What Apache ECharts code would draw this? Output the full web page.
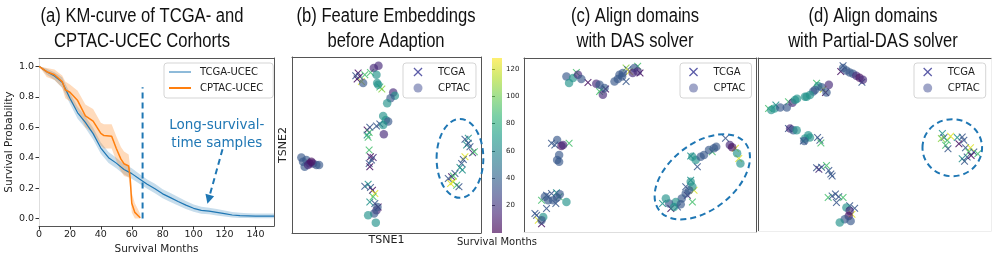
<!DOCTYPE html>
<html><head><meta charset="utf-8">
<script src="https://cdn.jsdelivr.net/npm/echarts@6/dist/echarts.min.js"></script>
<style>html,body{margin:0;padding:0;background:#fff}#c{width:996px;height:260px}</style>
</head><body><div id="c"></div><script>
// ---------------- data ----------------
const titles = ['(a) KM-curve of TCGA- and\nCPTAC-UCEC Corhorts','(b) Feature Embeddings\nbefore Adaption','(c) Align domains\nwith DAS solver','(d) Align domains\nwith Partial-DAS solver'];
const kmTicksX = [0,20,40,60,80,100,120,140];
const kmTicksY = [0,0.2,0.4,0.6,0.8,1.0];
const cbarTicks = [20,40,60,80,100,120];

const tcgaMonths = [0,5,10,15,20,25,30,35,40,45,50,55,60,65,70,75,80,85,90,95,100,105,110,115,120,125,130,135,140,145,152];
const tcgaSurv = [1.0,0.965,0.937,0.895,0.79,0.695,0.632,0.558,0.463,0.40,0.364,0.322,0.295,0.259,0.225,0.196,0.162,0.137,0.112,0.088,0.067,0.053,0.048,0.04,0.032,0.023,0.019,0.017,0.015,0.015,0.015];
const tcgaLo = [1.0,0.945,0.91,0.86,0.755,0.655,0.595,0.52,0.425,0.365,0.33,0.29,0.262,0.228,0.195,0.166,0.133,0.108,0.085,0.063,0.044,0.032,0.028,0.02,0.013,0.007,0.004,0.003,0.002,0.002,0.002];
const tcgaHi = [1.0,0.985,0.962,0.928,0.825,0.735,0.67,0.597,0.5,0.437,0.4,0.356,0.33,0.292,0.257,0.228,0.193,0.167,0.141,0.115,0.092,0.077,0.07,0.062,0.053,0.043,0.037,0.035,0.033,0.033,0.033];

const cptacMonths = [0,5,10,15,17,20,25,30,35,40,42,47,50,53,55,58,59,60,62,64,65.5];
const cptacSurv = [1.0,0.965,0.945,0.9,0.845,0.83,0.775,0.675,0.64,0.56,0.545,0.54,0.46,0.39,0.36,0.345,0.26,0.1,0.04,0.02,0.005];
const cptacLo = [1.0,0.93,0.91,0.86,0.79,0.77,0.71,0.6,0.56,0.48,0.46,0.46,0.38,0.31,0.28,0.27,0.19,0.04,0.0,0.0,0.0];
const cptacHi = [1.0,0.99,0.98,0.94,0.9,0.88,0.84,0.75,0.72,0.63,0.62,0.62,0.54,0.47,0.44,0.42,0.33,0.17,0.1,0.06,0.03];

const cutoffMonth = 67, cutoffTop = 0.863;
const arrowFrom = [118.7,0.455], arrowTo = [109.7,0.126];
const noteAt = [115,0.55];
const noteText = 'Long-survival-\ntime samples';

// t-SNE points: [tsne1, tsne2, survival months]
const bTCGA = [
[-8.5,23.0,5],[-8.0,22.0,15],[-8.8,21.2,5],[-7.5,20.5,122],[-9.2,22.2,35],[-6.5,22.5,90],[-4.8,23.2,90],[-2.0,18.8,90],[-1.4,18.2,105],
[-5.8,6.0,5],[-5.2,5.2,90],[-5.8,4.5,65],[-5.0,6.8,35],[-3.0,7.2,35],[-2.0,7.8,35],[-5.5,3.8,90],
[-5.2,0,90],[-4.8,-2.0,5],[-4.0,-2.2,15],[-5.2,-4.0,35],[-5.0,-5.0,5],[-4.5,-3.0,35],
[-6.5,-10.8,35],[-5.5,-10.2,65],[-4.8,-11.2,35],[-4.2,-12.0,5],[-3.5,-13.0,122],[-4.0,-14.0,90],[-3.5,-16.0,35],[-2.5,-17.0,5],[-5.0,-15.5,65],
[23.5,3.2,35],[24.5,3.5,65],[24.0,1.5,65],[25.0,1.0,35],[25.8,-0.8,15],[26.3,-0.5,90],[23.5,-2.0,122],[23.0,-2.8,35],[22.5,-4.0,35],[22.0,-5.2,65],[22.7,-6.0,65],[20.5,-7.0,35],[19.5,-8.0,5],[18.5,-8.5,35],[20.0,-7.8,90],[19.2,-10.0,122],[20.0,-9.5,122],[21.0,-10.5,90],[21.7,-11.0,35],[24.5,2.0,35]
];
const bCPTAC = [
[-7.0,20.0,35],[-3.8,24.5,15],[-2.4,25.2,15],[-3.0,22.5,65],[-2.5,19.5,65],[-2.8,20.0,65],[2.0,17.2,15],[2.5,16.2,65],[1.2,15.5,35],[0.2,14.0,65],
[-1.0,10.2,65],[-0.2,9.0,65],[0.5,8.5,35],[-1.0,7.5,65],[-0.8,4.7,15],
[-3.0,-18.0,15],[-3.7,-19.0,35],[-5.5,-19.5,65],[-3.2,-21.7,65],[-2.7,-17.0,35],
[-25.5,-2.2,35],[-25.0,-3.5,35],[-24.0,-3.0,35],[-23.0,-4.0,5],[-22.0,-4.0,15],[-21.0,-4.5,35],[-20.2,-4.5,35],[-24.5,-5.0,35],[-23.5,-4.5,15],[-22.5,-3.5,5]
];
const cTCGA = [
[-19.0,21.7,90],[-15.5,18.7,5],[-11.5,16.5,90],[-10.2,16.7,5],[-12.0,16.0,90],[-4.0,23.0,105],[-3.5,22.5,35],[-0.5,23.5,90],[0.2,21.5,5],[-4.0,19.0,35],[-3.0,22.0,122],
[-26.5,0.5,35],[-25.5,0,35],[-21.2,0.5,90],
[-29.5,-16.5,90],[-28.0,-15.0,35],[-26.5,-14.5,35],[-25.0,-14.3,65],[-24.2,-15.5,90],[-25.2,-17.5,35],[-28.0,-19.0,35],[-31.5,-20.5,35],[-31.0,-21.0,35],[-30.5,-22.5,122],[-29.5,-23.5,5],
[15.5,-3.3,65],[22.0,-2.0,90],[26.0,2.0,35],[29.0,-1.0,122],[30.0,-4.0,122],[17.5,-6.5,35],
[14.5,-15.0,15],[16.5,-13.5,122],[16.0,-17.0,90],[7.0,-17.5,65],[9.5,-19.0,5],[11.5,-18.5,35],[14.0,-12.5,35],[15.5,-10.5,65]
];
const cCPTAC = [
[-22.0,20.5,35],[-21.2,18.5,65],[-20.0,20.0,65],[-18.5,21.0,15],[-17.5,19.7,35],[-13.0,18.3,15],[-12.0,18.0,35],[-11.0,15.0,15],[-10.5,17.0,35],
[-7.5,19.0,35],[-6.5,19.7,35],[-6.0,21.0,35],[-5.2,20.5,35],[-5.0,21.5,35],[-1.5,23.0,35],[-0.5,22.0,15],[-2.0,21.5,15],
[-24.8,1.5,35],[-23.5,-0.3,5],[-23.0,0,15],[-24.2,-3.0,35],[-24.8,-4.5,35],[-24.2,-5.0,35],
[-28.5,-15.5,35],[-27.5,-16.5,35],[-26.0,-16.5,35],[-24.8,-15.7,35],[-24.0,-14.7,35],[-22.0,-17.0,65],[-29.0,-21.5,65],[-29.5,-22.5,35],
[16.0,-3.5,65],[17.0,-4.5,65],[18.5,-3.5,35],[19.5,-3.0,35],[21.0,-1.5,35],[22.5,-1.0,35],[23.2,-0.5,35],[27.3,0,15],[28.0,-0.7,5],[29.5,-2.5,65],[30.5,-5.5,65],
[15.5,-11.0,65],[16.0,-12.5,65],[15.0,-13.5,35],[14.0,-14.5,35],[12.8,-16.0,35],[11.0,-17.0,65],[9.0,-17.5,35],[8.0,-16.0,65],[10.5,-18.5,65],[12.5,-17.7,35]
];
const dTCGA = [
[-10.2,21.5,5],[-9.5,23.2,35],[-3.8,18.3,35],[-17.5,18.0,90],[-15.5,16.2,122],[-14.8,15.2,5],
[-32.0,10.5,90],[-26.0,12.5,90],[-29.8,11.5,65],
[-26.0,4.5,35],[-21.5,0.8,35],[-17.2,1.8,35],[-16.5,1.0,35],[-16.2,0.2,90],
[-17.5,-7.2,35],[-16.8,-7.6,15],[-16.0,-7.0,35],[-14.5,-6.5,90],[-13.8,-8.0,35],[-13.2,-9.0,35],[-12.8,-9.6,35],
[-14.0,-16.0,90],[-12.8,-15.6,35],[-11.8,-15.0,35],[-10.8,-15.8,35],[-9.5,-16.0,90],[-11.5,-17.5,35],[-7.5,-18.5,35],[-6.0,-19.2,35],[-6.8,-21.0,122],
[20.5,3.0,65],[21.0,1.8,35],[22.0,1.0,90],[23.0,2.2,122],[21.5,-0.5,90],[22.2,-1.5,35],[25.0,1.8,65],[26.5,2.0,35],[27.0,1.0,35],[25.5,0,5],[27.5,-1.2,35],[29.0,-1.2,122],[28.5,-2.5,90],[30.0,-2.5,35],[31.2,-3.0,90],[28.0,-4.0,35],[26.5,-4.5,65],[27.2,-5.2,35],[29.2,-3.5,5],[20.2,1.5,105]
];
const dCPTAC = [
[-9.5,22.5,35],[-8.5,21.8,35],[-7.5,21.2,35],[-6.5,20.8,35],[-5.5,20.2,15],[-4.5,19.6,5],[-3.5,19.0,15],
[-17.0,17.2,65],[-16.0,16.8,35],[-13.8,17.5,15],[-14.5,15.2,35],[-18.0,16.0,35],[-18.5,15.5,35],[-19.5,14.5,65],[-20.5,14.0,65],[-21.0,14.0,65],
[-31.2,10.0,65],[-30.2,10.5,65],[-28.5,10.8,35],[-26.5,10.8,35],[-24.8,12.2,15],[-24.0,13.0,65],[-23.4,13.4,65],
[-25.5,4.5,15],[-24.5,4.0,35],[-23.5,4.0,65],[-21.0,1.5,65],[-20.0,2.5,65],[-19.5,1.8,65],[-21.2,0.8,35],
[-8.5,-19.0,65],[-7.5,-20.0,15],[-7.8,-21.5,5],[-9.0,-22.5,35],[-10.5,-23.5,65],[-7.2,-23.0,35]
];
// dashed annotation ellipses (t-SNE units): centre, half-axes, rotation in degrees
const bEllipse = {cx:22.0, cy:-2.5, rx:7.0, ry:11.8, rot:0};
const cEllipse = {cx:19.0, cy:-9.5, rx:16.5, ry:10.0, rot:38};
const dEllipse = {cx:23.5, cy:-1.2, rx:9.0, ry:8.5, rot:0};

// ---------------- chart ----------------
const viridis = ['#440154','#482878','#3e4989','#31688e','#26828e','#1f9e89','#35b779','#6ece58','#b5de2b','#fde725'];
const FONT = 'DejaVu Sans';
const BLUE = '#1f77b4', ORANGE = '#ff7f0e', DARK = '#555', LIGHT = '#dedede';
const XPATH = 'path://M1,0L5,4L9,0L10,1L6,5L10,9L9,10L5,6L1,10L0,9L4,5L0,1Z';
const zip = (a,b) => a.map((v,i)=>[v,b[i]]);

const chart = echarts.init(document.getElementById('c'), null, {renderer:'canvas'});

const grids = [
  {left:39, top:58, width:235, height:175},
  {left:292, top:57, width:189, height:176},
  {left:492, top:58, width:10, height:175},
  {left:524, top:58, width:232, height:174},
  {left:758, top:58, width:233, height:173}
];
function frameAxis(grid, pos, min, max, color, extra){
  return Object.assign({type:'value', gridIndex:grid, position:pos, min:min, max:max,
    axisLine:{show:true, onZero:false, lineStyle:{color:color, width:1}},
    axisTick:{show:false}, axisLabel:{show:false}, splitLine:{show:false}}, extra||{});
}
const xAxes = [
  frameAxis(0,'bottom',0,152,DARK,{
    axisTick:{show:true, length:3.5, lineStyle:{color:'#333'}, customValues:kmTicksX},
    axisLabel:{show:true, customValues:kmTicksX, fontSize:9.5, fontFamily:FONT, color:'#222', margin:3},
    name:'Survival Months', nameLocation:'middle', nameGap:13,
    nameTextStyle:{fontSize:10.5, fontFamily:FONT, color:'#222'}}),
  frameAxis(0,'top',0,152,DARK),
  frameAxis(1,'bottom',-28.3,28.3,DARK,{name:'TSNE1', nameLocation:'middle', nameGap:2,
    nameTextStyle:{fontSize:11, fontFamily:FONT, color:'#222'}}),
  frameAxis(1,'top',-28.3,28.3,DARK),
  frameAxis(2,'bottom',0,1,'transparent',{axisLine:{show:false}, name:'Survival Months', nameLocation:'middle', nameGap:4,
    nameTextStyle:{fontSize:10, fontFamily:FONT, color:'#222'}}),
  frameAxis(3,'bottom',-34.8,35.2,LIGHT),
  frameAxis(3,'top',-34.8,35.2,DARK),
  frameAxis(4,'bottom',-35.2,35.2,'#eeeeee'),
  frameAxis(4,'top',-35.2,35.2,DARK)
];
const yAxes = [
  frameAxis(0,'left',-0.05,1.055,LIGHT,{
    axisTick:{show:true, length:3.5, lineStyle:{color:'#333'}, customValues:kmTicksY},
    axisLabel:{show:true, customValues:kmTicksY, fontSize:9.5, fontFamily:FONT, color:'#222', margin:5,
      formatter:v=>Number(v).toFixed(1)},
    name:'Survival Probability', nameLocation:'middle', nameGap:21,
    nameTextStyle:{fontSize:10.5, fontFamily:FONT, color:'#222'}}),
  frameAxis(0,'right',-0.05,1.055,DARK),
  frameAxis(1,'left',-24.8,27.8,DARK,{name:'TSNE2', nameLocation:'middle', nameGap:3,
    nameTextStyle:{fontSize:11, fontFamily:FONT, color:'#222'}}),
  frameAxis(1,'right',-24.8,27.8,DARK),
  frameAxis(2,'right',0,128,'transparent',{axisLine:{show:false},
    axisTick:{show:true, length:3, lineStyle:{color:'#333'}, customValues:cbarTicks},
    axisLabel:{show:true, customValues:cbarTicks, fontSize:7, fontFamily:FONT, color:'#222', margin:4}}),
  frameAxis(3,'left',-26,26,DARK),
  frameAxis(3,'right',-26,26,DARK),
  frameAxis(4,'left',-26,25.5,DARK),
  frameAxis(4,'right',-26,25.5,'#eeeeee')
];

function scatter(name, data, xi, yi, isX){
  return {type:'scatter', name:name, xAxisIndex:xi, yAxisIndex:yi, data:data,
    symbol: isX ? XPATH : 'circle', symbolSize: isX ? 7.5 : 8.5,
    itemStyle:{opacity: isX ? 0.85 : 0.65, color:'#555'}, silent:true, z:3};
}
// confidence band drawn as one polygon through the axis scales
function band(name, months, lo, hi, color, opacity){
  const rows = months.map((m,i)=>[m, lo[i], hi[i]]);
  return {type:'custom', name:name, xAxisIndex:0, yAxisIndex:0, data:rows, silent:true, clip:true, z:1,
    encode:{x:0, y:[1,2]},
    renderItem:(params, api)=>{
      if (params.dataIndex !== 0) return null;
      const pts = [];
      for (let i=0;i<rows.length;i++) pts.push(api.coord([rows[i][0], rows[i][2]]));
      for (let i=rows.length-1;i>=0;i--) pts.push(api.coord([rows[i][0], rows[i][1]]));
      return {type:'polygon', shape:{points:pts}, style:{fill:color, opacity:opacity}};
    }};
}
const series = [
  band('tcgaBand', tcgaMonths, tcgaLo, tcgaHi, BLUE, 0.25),
  {type:'line', name:'TCGA-UCEC', xAxisIndex:0, yAxisIndex:0, data:zip(tcgaMonths,tcgaSurv), z:2,
    symbol:'none', lineStyle:{color:BLUE, width:1.2}, itemStyle:{color:BLUE}, silent:true},
  band('cptacBand', cptacMonths, cptacLo, cptacHi, ORANGE, 0.28),
  {type:'line', name:'CPTAC-UCEC', xAxisIndex:0, yAxisIndex:0, data:zip(cptacMonths,cptacSurv), z:2,
    symbol:'none', lineStyle:{color:ORANGE, width:1.5}, itemStyle:{color:ORANGE}, silent:true},
  {type:'line', name:'cutoff', xAxisIndex:0, yAxisIndex:0, data:[[cutoffMonth,0],[cutoffMonth,cutoffTop]],
    symbol:'none', lineStyle:{color:BLUE, width:2, type:[6,4]}, silent:true, z:4,
    markLine:{silent:true, symbol:['none','triangle'], symbolSize:9, label:{show:false},
      lineStyle:{color:BLUE, width:2, type:[6,4]}, itemStyle:{color:BLUE}, emphasis:{disabled:true},
      data:[[{coord:arrowFrom},{coord:arrowTo}]]},
    markPoint:{silent:true, symbol:'circle', symbolSize:1, itemStyle:{color:'rgba(0,0,0,0)'},
      label:{show:true, position:'inside', formatter:noteText, color:BLUE, fontSize:13.5, lineHeight:18, fontFamily:FONT},
      data:[{coord:noteAt}]}},
  scatter('TCGA', bTCGA, 2, 2, true),
  scatter('CPTAC', bCPTAC, 2, 2, false),
  scatter('TCGA', cTCGA, 5, 5, true),
  scatter('CPTAC', cCPTAC, 5, 5, false),
  scatter('TCGA', dTCGA, 7, 7, true),
  scatter('CPTAC', dCPTAC, 7, 7, false)
];

const legendBox = {orient:'vertical', selectedMode:false, backgroundColor:'#fff', borderColor:'#d5d5d5', borderWidth:1, borderRadius:3};
function tsneLegend(left, padL){
  return Object.assign({}, legendBox, {left:left, top:63, itemWidth:9, itemHeight:9, itemGap:4,
    padding:[3,6,4,padL],
    textStyle:{fontSize:10, fontFamily:FONT, color:'#222', lineHeight:12, padding:[0,0,0,10.5]},
    data:[{name:'TCGA', icon:XPATH, itemStyle:{color:'#4a4a9e', opacity:0.9}},
          {name:'CPTAC', icon:'circle', itemStyle:{color:'#6b75aa'}}]});
}
const legends = [
  Object.assign({}, legendBox, {left:164, top:63, itemWidth:22, itemHeight:10, itemGap:4, padding:[3,10,4,4],
    textStyle:{fontSize:10, fontFamily:FONT, color:'#222', lineHeight:12, padding:[0,0,0,4]},
    data:[{name:'TCGA-UCEC', itemStyle:{opacity:0}, lineStyle:{width:1, color:BLUE}},
          {name:'CPTAC-UCEC', itemStyle:{opacity:0}, lineStyle:{width:2, color:ORANGE}}]}),
  tsneLegend(403, 10.5),
  tsneLegend(680, 9),
  tsneLegend(914, 9.2)
];

chart.setOption({
  animation:false,
  grid:grids,
  xAxis:xAxes,
  yAxis:yAxes,
  legend:legends,
  visualMap:{type:'continuous', show:false, min:0, max:128, dimension:2, seriesIndex:[5,6,7,8,9,10],
    inRange:{color:viridis}},
  series:series
});

function ellipseGraphic(gridIndex, e){
  const c = chart.convertToPixel({gridIndex:gridIndex}, [e.cx, e.cy]);
  const px = chart.convertToPixel({gridIndex:gridIndex}, [e.cx + e.rx, e.cy]);
  const py = chart.convertToPixel({gridIndex:gridIndex}, [e.cx, e.cy + e.ry]);
  const kx = Math.abs(px[0]-c[0]) / e.rx;
  const rx = Math.abs(px[0]-c[0]);
  const ry = e.rot ? e.ry * kx : Math.abs(py[1]-c[1]);
  return {type:'ellipse', x:c[0], y:c[1], rotation:e.rot*Math.PI/180, silent:true, z:100,
    shape:{cx:0, cy:0, rx:rx, ry:ry},
    style:{fill:null, stroke:BLUE, lineWidth:2, lineDash:[6,4]}};
}
// panel titles, centred above each panel, drawn narrow like the reference
const titleCenters = [142, 386, 635, 873];
const titleGraphics = titles.map((t,i)=>({type:'text', x:titleCenters[i], y:4, scaleX:0.83, silent:true,
  style:{text:t, align:'center', verticalAlign:'top', font:"20px 'Liberation Sans', Arial, sans-serif",
    lineHeight:25, fill:'#111'}}));
const cbTop = chart.convertToPixel({gridIndex:2}, [0,128]);
const cbBot = chart.convertToPixel({gridIndex:2}, [1,0]);
chart.setOption({graphic:[
  ellipseGraphic(1, bEllipse), ellipseGraphic(3, cEllipse), ellipseGraphic(4, dEllipse),
  {type:'rect', silent:true, z:1, x:cbTop[0], y:cbTop[1],
   shape:{width:cbBot[0]-cbTop[0], height:cbBot[1]-cbTop[1]},
   style:{opacity:0.65, fill:new echarts.graphic.LinearGradient(0,1,0,0,
     viridis.map((c,i)=>({offset:i/(viridis.length-1), color:c})))}}
].concat(titleGraphics)});
</script></body></html>
